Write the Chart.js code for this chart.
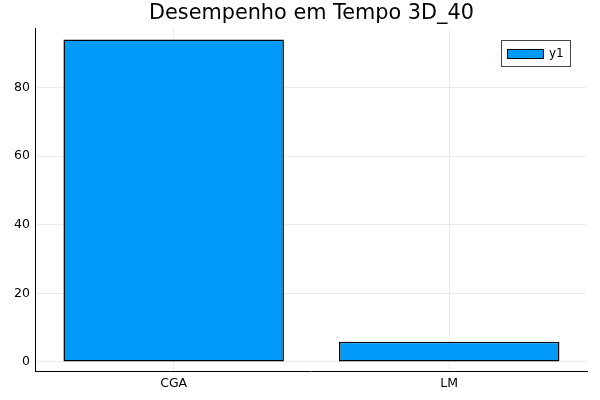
<!DOCTYPE html>
<html>
<head>
<meta charset="utf-8">
<script src="https://cdn.jsdelivr.net/npm/chart.js@4.4.3/dist/chart.umd.min.js"></script>
<style>
  html, body { margin: 0; padding: 0; background: #fff; }
  #wrap { width: 600px; height: 400px; position: relative; }
</style>
</head>
<body>
<div id="wrap"><canvas id="chart"></canvas></div>
<script>
  /* ── Data ─────────────────────────────────────────────────────────── */
  const categories = ["CGA", "LM"];
  const seriesName = "y1";
  const seriesValues = [94.0, 5.9];
  const yTicks = [0, 20, 40, 60, 80];

  const FONT = "'DejaVu Sans', sans-serif";
  const BAR_COLOR = "#009af9";

  /* ── Legend drawn inside the plot area (Plots.jl style) ───────────── */
  const insideLegend = {
    id: "insideLegend",
    afterDraw(chart) {
      const ctx = chart.ctx;
      const area = chart.chartArea;
      const ds = chart.data.datasets[0];
      const w = 69, h = 26;
      const x = Math.round(area.right) - 17 - w, y = Math.round(area.top) + 11;
      ctx.save();
      ctx.fillStyle = "#fff";
      ctx.fillRect(x, y, w, h);
      ctx.strokeStyle = "#444";
      ctx.lineWidth = 1;
      ctx.strokeRect(x + 0.5, y + 0.5, w, h);
      ctx.fillStyle = ds.backgroundColor;
      ctx.fillRect(x + 6, y + 9, 36, 9);
      ctx.strokeStyle = "#000";
      ctx.strokeRect(x + 6.5, y + 9.5, 36, 9);
      ctx.fillStyle = "#000";
      ctx.font = "12px " + FONT;
      ctx.textBaseline = "middle";
      ctx.fillText(ds.label, x + 48, y + 14);
      ctx.restore();
    },
  };

  new Chart(document.getElementById("chart"), {
    type: "bar",
    data: {
      labels: categories,
      datasets: [{
        label: seriesName,
        data: seriesValues,
        backgroundColor: BAR_COLOR,
        borderColor: "#000",
        borderWidth: 1.5,
        borderSkipped: false,
        barPercentage: 0.8,
        categoryPercentage: 1.0,
      }],
    },
    options: {
      responsive: true,
      maintainAspectRatio: false,
      animation: false,
      layout: { padding: { left: 8, right: 13, top: 0, bottom: 4 } },
      plugins: {
        legend: { display: false },
        tooltip: { enabled: false },
        title: {
          display: true,
          fullSize: false,
          text: "Desempenho em Tempo 3D_40",
          color: "#000",
          font: { family: FONT, size: 20.8, weight: "normal" },
          padding: { top: 1, bottom: 3 },
        },
      },
      scales: {
        x: {
          offset: true,
          grid: { color: "rgba(0,0,0,0.07)", offset: false, drawTicks: false },
          border: { color: "#000", width: 1 },
          ticks: { color: "#000", font: { family: FONT, size: 12.5 }, padding: 5 },
        },
        y: {
          min: -2.65,
          max: 97.1,
          afterBuildTicks: (scale) => { scale.ticks = yTicks.map((v) => ({ value: v })); },
          grid: { color: "rgba(0,0,0,0.07)", drawTicks: false },
          border: { color: "#000", width: 1 },
          ticks: { color: "#000", font: { family: FONT, size: 12.5 }, padding: 6 },
        },
      },
    },
    plugins: [insideLegend],
  });
</script>
</body>
</html>
